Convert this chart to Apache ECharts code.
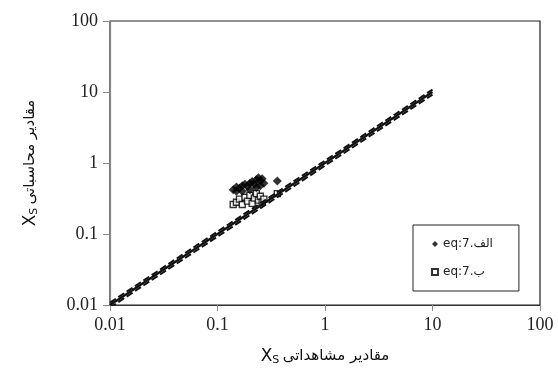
<!DOCTYPE html>
<html>
<head>
<meta charset="UTF-8">
<title></title>
<style>
  html, body { margin: 0; padding: 0; background: #fff; }
  #main { width: 558px; height: 376px; }
</style>
</head>
<body>
<div id="main"></div>
<script src="https://cdn.jsdelivr.net/npm/echarts@6/dist/echarts.min.js"></script>
<script>
// series names (legend)
var seriesA = 'eq:7.الف';
var seriesB = 'eq:7.ب';

var pointsA = [
  [0.14, 0.42], [0.15, 0.46], [0.16, 0.44], [0.17, 0.48], [0.18, 0.50],
  [0.19, 0.47], [0.20, 0.52], [0.21, 0.55], [0.22, 0.50], [0.23, 0.58],
  [0.24, 0.62], [0.25, 0.56], [0.26, 0.60], [0.27, 0.52], [0.36, 0.56],
  [0.17, 0.40], [0.20, 0.42], [0.23, 0.45], [0.15, 0.40], [0.25, 0.48]
];
var pointsB = [
  [0.14, 0.26], [0.15, 0.28], [0.16, 0.31], [0.17, 0.26], [0.18, 0.33],
  [0.19, 0.29], [0.20, 0.35], [0.21, 0.27], [0.22, 0.32], [0.23, 0.37],
  [0.24, 0.30], [0.25, 0.34], [0.26, 0.28], [0.27, 0.31], [0.36, 0.37]
];

// 1:1 line and its band
var lineMid = [[0.01, 0.01], [10, 10]];
var lineUp = [[0.01, 0.0108], [10, 10.8]];
var lineLow = [[0.01, 0.0092], [10, 9.2]];

var serif = 'Liberation Serif';
var arabic = 'DejaVu Sans';

var myChart = echarts.init(document.getElementById('main'));
var option = {
  animation: false,
  backgroundColor: '#fff',
  grid: {
    left: 110, right: 18, top: 21, bottom: 71,
    show: true, borderColor: '#222', borderWidth: 1.2
  },
  legend: {
    data: [seriesA, seriesB],
    orient: 'vertical',
    left: 413, top: 225,
    padding: [13, 26, 13, 18],
    itemGap: 16,
    itemWidth: 6, itemHeight: 6,
    borderColor: '#222', borderWidth: 1,
    textStyle: { fontFamily: arabic, fontSize: 12, color: '#222' }
  },
  xAxis: {
    type: 'log', logBase: 10, min: 0.01, max: 100,
    name: '{x|X}{s|S} {t|مقادیر مشاهداتی}',
    nameLocation: 'middle', nameGap: 42,
    nameTextStyle: {
      rich: {
        x: { fontFamily: arabic, fontSize: 17, color: '#111' },
        s: { fontFamily: arabic, fontSize: 11, color: '#111', verticalAlign: 'bottom', padding: [8, 0, 0, 0] },
        t: { fontFamily: arabic, fontSize: 15, color: '#111' }
      }
    },
    axisLine: { lineStyle: { color: '#333', width: 1.2 } },
    axisTick: { show: true, inside: false, length: 6, lineStyle: { color: '#888' } },
    minorTick: { show: false },
    splitLine: { show: false },
    axisLabel: {
      fontFamily: serif, fontSize: 18, color: '#222', margin: 11,
      formatter: function (v) { return String(+v.toPrecision(3)); }
    }
  },
  yAxis: {
    type: 'log', logBase: 10, min: 0.01, max: 100,
    name: '{x|X}{s|S} {t|مقادیر محاسباتی}',
    nameLocation: 'middle', nameGap: 70, nameRotate: 90,
    nameTextStyle: {
      rich: {
        x: { fontFamily: arabic, fontSize: 17, color: '#111' },
        s: { fontFamily: arabic, fontSize: 11, color: '#111', verticalAlign: 'bottom', padding: [8, 0, 0, 0] },
        t: { fontFamily: arabic, fontSize: 15, color: '#111' }
      }
    },
    axisLine: { lineStyle: { color: '#888', width: 1.2 } },
    axisTick: { show: true, inside: false, length: 7, lineStyle: { color: '#888' } },
    splitLine: { show: false },
    axisLabel: {
      fontFamily: serif, fontSize: 18, color: '#222', margin: 12,
      formatter: function (v) { return String(+v.toPrecision(3)); }
    }
  },
  series: [
    {
      type: 'line', data: lineMid, symbol: 'none', silent: true,
      lineStyle: { color: '#111', width: 2.2 }
    },
    {
      type: 'line', data: lineUp, symbol: 'none', silent: true,
      lineStyle: { color: '#111', width: 2, type: [7, 3] }
    },
    {
      type: 'line', data: lineLow, symbol: 'none', silent: true,
      lineStyle: { color: '#111', width: 2, type: [7, 3] }
    },
    {
      name: seriesB, type: 'scatter', data: pointsB,
      symbol: 'rect', symbolSize: 6,
      itemStyle: { color: '#fff', borderColor: '#000', borderWidth: 1.4 }
    },
    {
      name: seriesA, type: 'scatter', data: pointsA,
      symbol: 'diamond', symbolSize: 9,
      itemStyle: { color: '#000' }
    }
  ]
};
myChart.setOption(option);
</script>
</body>
</html>
